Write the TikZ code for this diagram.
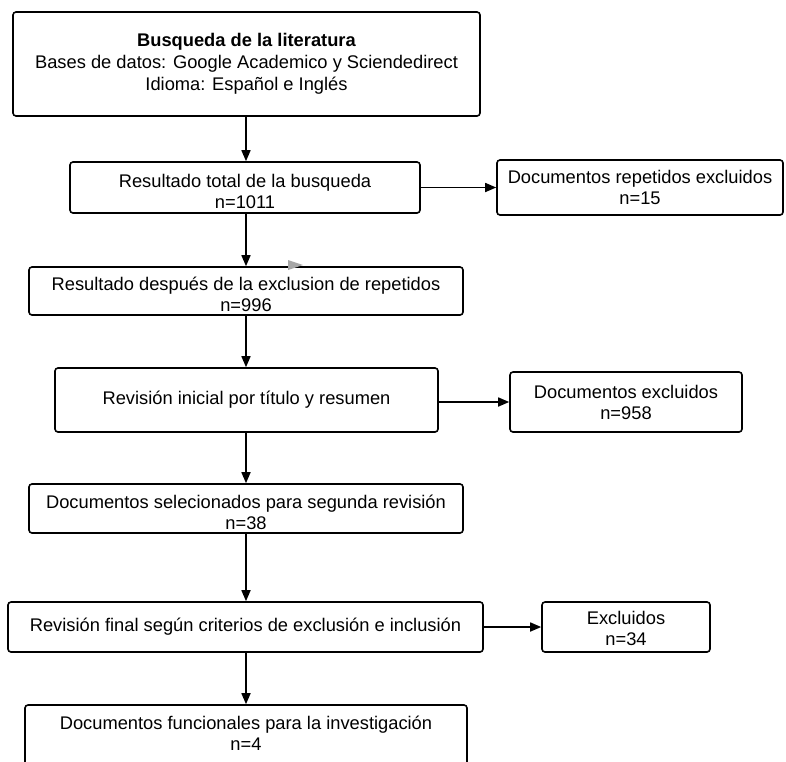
\documentclass[tikz,border=0pt]{standalone}
\usepackage{fontspec}
\setmainfont{Liberation Sans}
\usetikzlibrary{arrows.meta}
\newcommand{\lowstrut}{\rule{0pt}{21pt}}
\tikzset{
  box/.style={draw=black, line width=1.6pt, rounded corners=3pt, fill=white,
    align=center, inner sep=0pt, font=\fontsize{18.3}{21}\selectfont},
  arr/.style={line width=1.6pt, -{Triangle[length=11pt,width=9pt]}}
}
\begin{document}
\begin{tikzpicture}[x=1pt,y=-1pt]
\useasboundingbox (0,0) rectangle (786,761);
\clip (0,0) rectangle (786,761);
\node[box, minimum width=467pt, minimum height=104pt, font=\fontsize{18.3}{22}\selectfont] (b1) at (246.5,64)
  {\textbf{Busqueda de la literatura}\\Bases de datos: Google Academico y Sciendedirect\\Idioma: Español e Inglés};
\node[box, minimum width=350pt, minimum height=51pt] (b2) at (245,187.5)
  {\lowstrut Resultado total de la busqueda\\n=1011};
\node[box, minimum width=286pt, minimum height=55pt] (r1) at (640,187.5)
  {Documentos repetidos excluidos\\n=15};
\node[box, minimum width=434pt, minimum height=48pt] (b3) at (246,291)
  {\lowstrut Resultado después de la exclusion de repetidos\\n=996};
\node[box, minimum width=383pt, minimum height=64pt] (b4) at (246.5,400)
  {Revisión inicial por título y resumen};
\node[box, minimum width=232pt, minimum height=60pt] (r2) at (626,402)
  {Documentos excluidos\\n=958};
\node[box, minimum width=434pt, minimum height=49pt] (b5) at (246,508.5)
  {\lowstrut Documentos selecionados para segunda revisión\\n=38};
\node[box, minimum width=475pt, minimum height=50pt] (b6) at (245.5,627)
  {Revisión final según criterios de exclusión e inclusión};
\node[box, minimum width=168pt, minimum height=50pt] (r3) at (626,627)
  {\rule{0pt}{17pt}Excluidos\\n=34};
\node[box, minimum width=442pt, minimum height=76pt] (b7) at (246,743) {};
\node[align=center, inner sep=0pt, font=\fontsize{18.3}{21}\selectfont] (b7t) at (246,733)
  {Documentos funcionales para la investigación\\n=4};
% gray stray arrowhead
\fill[gray!70] (288,260) -- (303,265) -- (288,270) -- cycle;
% connectors
\draw[arr] (246,116) coordinate (c1) -- (c1 |- b2.north);
\draw[arr] (b2.east) -- (b2.east -| r1.west);
\draw[arr] (246,213) coordinate (c2) -- (c2 |- b3.north);
\draw[arr] (246,315) coordinate (c3) -- (c3 |- b4.north);
\draw[arr] (b4.east |- r2.west) -- (r2.west);
\draw[arr] (246,432) coordinate (c4) -- (c4 |- b5.north);
\draw[arr] (246,533) coordinate (c5) -- (c5 |- b6.north);
\draw[arr] (b6.east) -- (b6.east -| r3.west);
\draw[arr] (246,652) coordinate (c6) -- (c6 |- b7.north);
\end{tikzpicture}
\end{document}
